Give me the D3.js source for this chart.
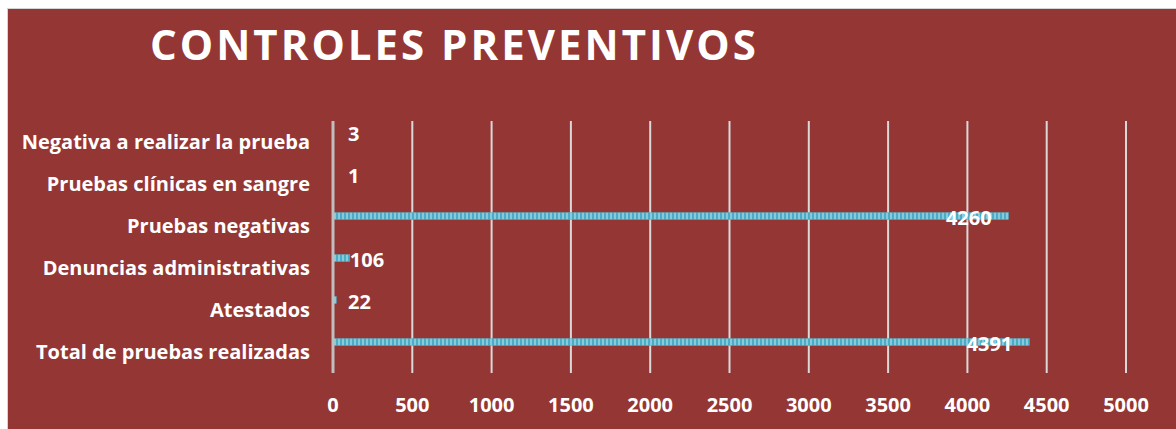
<!DOCTYPE html>
<html>
<head>
<meta charset="utf-8">
<script src="https://cdn.jsdelivr.net/npm/d3@7/dist/d3.min.js"></script>
<style>
  body { margin: 0; background: #fff; }
  text { font-family: "Open Sans", Lato, sans-serif; font-weight: bold; fill: #fff; }
</style>
</head>
<body>
<svg width="1176" height="429"></svg>
<script>
// Data, top to bottom as shown
const categories = [
    "Negativa a realizar la prueba",
    "Pruebas clínicas en sangre",
    "Pruebas negativas",
    "Denuncias administrativas",
    "Atestados",
    "Total de pruebas realizadas"
];
const values = [3, 1, 4260, 106, 22, 4391];
const ticks = [0, 500, 1000, 1500, 2000, 2500, 3000, 3500, 4000, 4500, 5000];

const svg = d3.select('svg');
const width = +svg.attr('width');
const height = +svg.attr('height');

// panel
svg.append('rect')
    .attr('x', 7.5).attr('y', 8.5)
    .attr('width', width).attr('height', height)
    .attr('fill', '#943634')
    .attr('stroke', '#d4d4d4');

// stripe pattern for the bars
const pat = svg.append('defs').append('pattern')
    .attr('id', 'stripe')
    .attr('patternUnits', 'userSpaceOnUse')
    .attr('width', 4).attr('height', 10);
pat.append('rect').attr('width', 4).attr('height', 10).attr('fill', '#4bacc6');
pat.append('rect').attr('x', 2).attr('width', 2).attr('height', 10).attr('fill', '#86cbdd');

// title
svg.append('text')
    .attr('x', 150).attr('y', 60)
    .style('font-size', '42px')
    .style('letter-spacing', '3px')
    .text('CONTROLES PREVENTIVOS');

const plot = { left: 333, right: 1126, top: 121, bottom: 373 };

const x = d3.scaleLinear().domain([0, 5000]).range([plot.left, plot.right]);
const y = d3.scaleBand().domain(categories).range([plot.top, plot.bottom]);

// gridlines
svg.append('g').selectAll('line')
    .data(ticks.slice(1))
    .join('line')
    .attr('x1', d => x(d)).attr('x2', d => x(d))
    .attr('y1', plot.top).attr('y2', plot.bottom)
    .attr('stroke', '#d9d9d9')
    .attr('stroke-width', 2);

// bars (offset above band centre, as in the original)
const barH = 7;
const barY = d => y(d) + y.bandwidth() / 2 - 10;

svg.append('g').selectAll('rect')
    .data(categories)
    .join('rect')
    .attr('x', x(0))
    .attr('y', d => barY(d) - barH / 2)
    .attr('width', (d, i) => x(values[i]) - x(0))
    .attr('height', barH)
    .attr('fill', 'url(#stripe)')
    .attr('stroke', '#5fa9bd')
    .attr('stroke-width', 0.5);

// zero axis line
svg.append('line')
    .attr('x1', x(0)).attr('x2', x(0))
    .attr('y1', plot.top).attr('y2', plot.bottom)
    .attr('stroke', '#bfbfbf')
    .attr('stroke-width', 3);

// value labels
svg.append('g').selectAll('text')
    .data(categories)
    .join('text')
    .attr('x', (d, i) => values[i] > 1000 ? x(values[i]) - 17 : Math.max(x(values[i]), x(0) + 15))
    .attr('y', d => barY(d) + 2)
    .attr('dy', '0.35em')
    .attr('text-anchor', (d, i) => values[i] > 1000 ? 'end' : 'start')
    .style('font-size', '20px')
    .text((d, i) => values[i]);

// category labels
svg.append('g').selectAll('text')
    .data(categories)
    .join('text')
    .attr('x', 310)
    .attr('y', d => y(d) + y.bandwidth() / 2)
    .attr('dy', '0.35em')
    .attr('text-anchor', 'end')
    .style('font-size', '20px')
    .text(d => d);

// tick labels
svg.append('g').selectAll('text')
    .data(ticks)
    .join('text')
    .attr('x', d => x(d))
    .attr('y', 405)
    .attr('dy', '0.35em')
    .attr('text-anchor', 'middle')
    .style('font-size', '20px')
    .text(d => d);
</script>
</body>
</html>
